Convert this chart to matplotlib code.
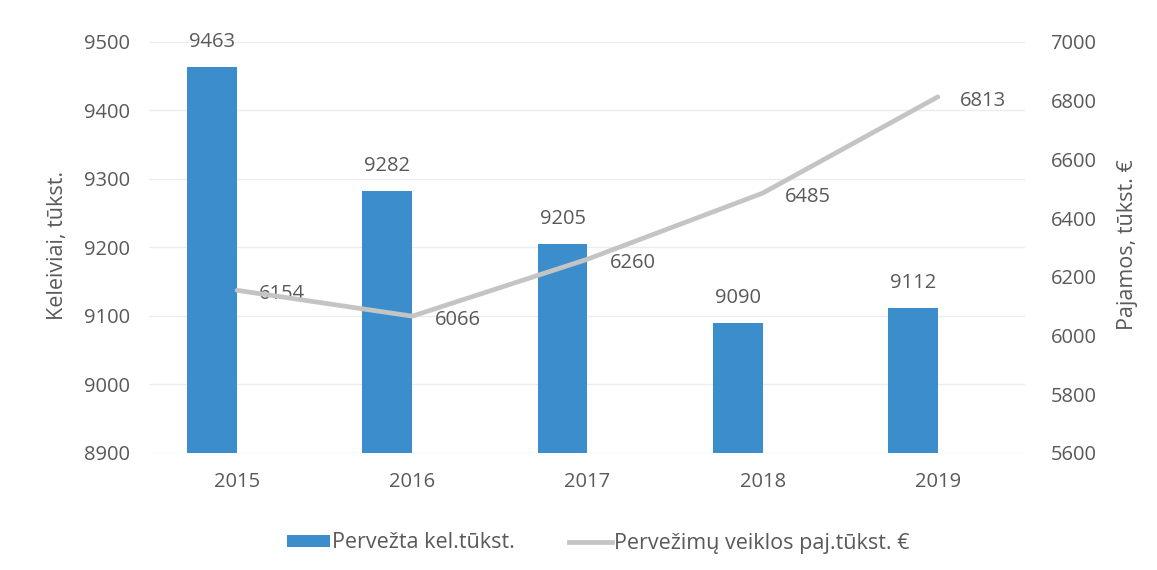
import matplotlib.pyplot as plt
from matplotlib.patches import Patch
from matplotlib.lines import Line2D
import numpy as np

years = ['2015', '2016', '2017', '2018', '2019']
passengers = [9463, 9282, 9205, 9090, 9112]
revenue = [6154, 6066, 6260, 6485, 6813]

left_ticks = [8900, 9000, 9100, 9200, 9300, 9400, 9500]
right_ticks = [5600, 5800, 6000, 6200, 6400, 6600, 6800, 7000]

bar_color = '#3c8dcb'
line_color = '#c4c4c4'
text_color = '#595959'

plt.rcParams['font.family'] = ['Open Sans', 'DejaVu Sans']

fig = plt.figure(figsize=(11.57, 5.70), dpi=100)
ax = fig.add_axes([0.1292, 0.2053, 0.7571, 0.7211])
ax2 = ax.twinx()

x = np.arange(len(years))
w = 0.285

ax.bar(x - w / 2, passengers, width=w, color=bar_color, zorder=3)
ax.set_ylim(8900, 9500)
ax.set_yticks(left_ticks)
ax.set_xlim(-0.5, len(years) - 0.5)
ax.set_xticks(x)
ax.set_xticklabels(years)
ax.grid(axis='y', color='#ececec', linewidth=1, zorder=0)
ax.set_axisbelow(True)

for xi, v in zip(x, passengers):
    ax.annotate(str(v), (xi - w / 2, v), xytext=(0, 18), textcoords='offset points',
                ha='center', va='center', fontsize=14.5, color=text_color)

ax2.plot(x, revenue, color=line_color, linewidth=3.4, zorder=4, solid_capstyle='round')
ax2.set_ylim(5600, 7000)
ax2.set_yticks(right_ticks)

for xi, v in zip(x, revenue):
    ax2.annotate(str(v), (xi, v), xytext=(16, -3), textcoords='offset points',
                 ha='left', va='center', fontsize=14.5, color=text_color)

for a in (ax, ax2):
    for s in a.spines.values():
        s.set_visible(False)
    a.tick_params(length=0, labelsize=14.5, labelcolor=text_color)

ax.tick_params(axis='y', pad=14)
ax.tick_params(axis='x', pad=14)
ax2.tick_params(axis='y', pad=18)

fig.text(58 / 1157, 1 - 245 / 570, 'Keleiviai, tūkst.', rotation=90,
         ha='center', va='center', fontsize=15.5, color=text_color)
fig.text(1127 / 1157, 1 - 245 / 570, 'Pajamos, tūkst. €', rotation=90,
         ha='center', va='center', fontsize=15.5, color=text_color)

handles = [Patch(facecolor=bar_color, edgecolor='none'),
           Line2D([0], [0], color=line_color, linewidth=3.4)]
fig.legend(handles, ['Pervežta kel.tūkst.', 'Pervežimų veiklos paj.tūkst. €'],
           loc='center', bbox_to_anchor=(598 / 1157, 1 - 543 / 570), ncol=2,
           frameon=False, fontsize=15.5, labelcolor=text_color,
           handlelength=2.0, handleheight=0.5, handletextpad=0.1, columnspacing=2.5)

fig.savefig('out.png', dpi=100)
